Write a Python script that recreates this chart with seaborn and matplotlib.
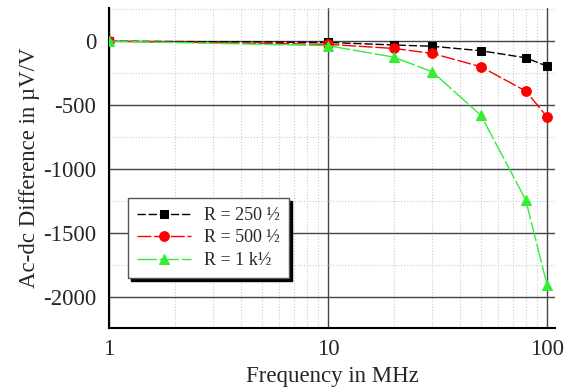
import pandas as pd
import matplotlib
matplotlib.use("Agg")
import matplotlib.pyplot as plt
import seaborn as sns
from matplotlib.ticker import FixedLocator, NullFormatter

# values
freq = [1, 10, 20, 30, 50, 80, 100]
r250 = [0, -10, -30, -40, -75, -130, -195]
r500 = [0, -25, -57, -96, -200, -390, -590]
r1k = [0, -35, -125, -240, -580, -1240, -1900]
labels = ["R = 250 ½", "R = 500 ½", "R = 1 k½"]

sns.set_style("white")
plt.rcParams['font.family'] = ['Liberation Serif', 'DejaVu Serif']
plt.rcParams['axes.unicode_minus'] = False

fig = plt.figure(figsize=(5.7, 3.92), dpi=100)
ax = fig.add_axes([0.191, 0.163, 0.783, 0.817])

df = pd.DataFrame({"f": freq * 3,
                   "v": r250 + r500 + r1k,
                   "serie": sum([[l] * len(freq) for l in labels], [])})

kolory = {labels[0]: "black", labels[1]: "#ff0000", labels[2]: "#33ee33"}
znaczniki = {labels[0]: "s", labels[1]: "o", labels[2]: "^"}
kreski = {labels[0]: (6, 2), labels[1]: (10, 2), labels[2]: (14, 2)}
rozmiar = {labels[0]: 5.5, labels[1]: 7, labels[2]: 7}

for l in labels:
    sub = df[df["serie"] == l]
    sns.lineplot(x="f", y="v", data=sub, ax=ax, color=kolory[l], lw=1,
                 marker=znaczniki[l], markersize=rozmiar[l],
                 markeredgecolor=kolory[l], dashes=kreski[l], label=l,
                 zorder=3)

ax.set_xscale("log")
ax.set_xlim(1, 109)
ax.set_ylim(-2240, 260)

ax.xaxis.set_major_locator(FixedLocator([1, 10, 100]))
ax.set_xticklabels(["1", "10", "100"])
ax.xaxis.set_minor_locator(FixedLocator([2, 3, 4, 5, 6, 7, 8, 9, 20, 30, 40, 50, 60, 70, 80, 90]))
ax.xaxis.set_minor_formatter(NullFormatter())
ax.yaxis.set_major_locator(FixedLocator([0, -500, -1000, -1500, -2000]))
ax.yaxis.set_minor_locator(FixedLocator([-250, -750, -1250, -1750, -2250, 250]))

ax.grid(which="major", color="#444444", lw=1)
ax.grid(which="minor", color="#cccccc", lw=0.8, ls=":")
ax.set_axisbelow(True)

for s in ["top", "right"]:
    ax.spines[s].set_visible(False)
for s in ["left", "bottom"]:
    ax.spines[s].set_color("black")
    ax.spines[s].set_linewidth(1.5)

ax.tick_params(axis="y", which="major", direction="out", length=8, width=1, color="#444444", labelsize=16.5, pad=1)
ax.tick_params(axis="x", which="major", length=0, labelsize=16.5, pad=8)
ax.tick_params(which="minor", length=0)

ax.set_xlabel("Frequency in MHz", fontsize=16.5, labelpad=4)
ax.set_ylabel("Ac-dc Difference in µV/V", fontsize=16.5, labelpad=2)

leg = ax.legend(loc="upper left", bbox_to_anchor=(128 / 570, 1 - 198 / 392),
                bbox_transform=fig.transFigure, borderaxespad=0,
                frameon=True, fancybox=False, shadow={"color": "black", "alpha": 1},
                fontsize=13, handlelength=3.0, labelspacing=0.3,
                borderpad=0.5, handletextpad=0.7)
leg.get_frame().set_edgecolor("#555555")
leg.get_frame().set_linewidth(1)
leg.get_frame().set_alpha(1)

fig.savefig("out.png", dpi=100)
